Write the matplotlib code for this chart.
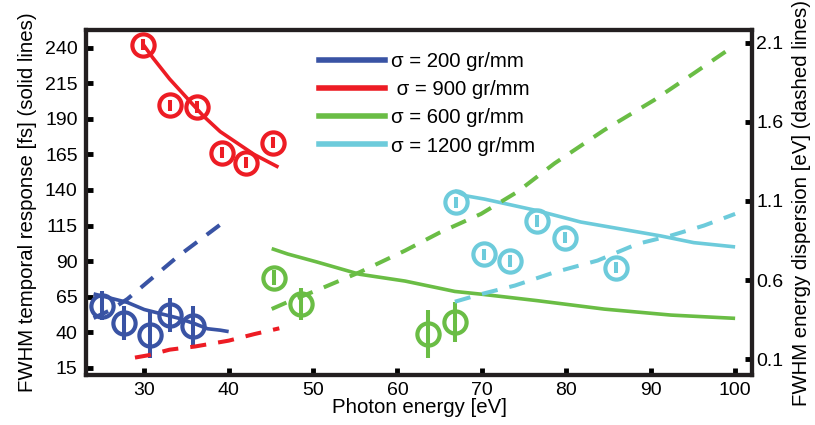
import matplotlib
matplotlib.use("Agg")
import matplotlib.pyplot as plt
from matplotlib.lines import Line2D

plt.rcParams['font.family'] = ['Liberation Sans', 'DejaVu Sans']

# ---- data ----
labels = ["σ = 200 gr/mm", " σ = 900 gr/mm", "σ = 600 gr/mm", "σ = 1200 gr/mm"]
colors = ["#3953a4", "#ed1c24", "#6abd45", "#6dcbdb"]

# sigma = 200
b_px = [25.0, 27.6, 30.7, 33.0, 35.8]
b_py = [58.7, 46.5, 38.1, 52.1, 44.7]
b_pe = [10, 12, 16, 12, 14]
b_sx = [24, 26, 28, 30, 32, 34, 36, 37.5, 39, 40]
b_sy = [67, 64, 61, 56, 53, 50, 46, 42.5, 41.5, 40.5]
b_dx = [24, 26, 28, 30, 32, 34, 36, 38, 40]
b_dy = [0.36, 0.41, 0.48, 0.57, 0.66, 0.75, 0.83, 0.91, 0.99]

# sigma = 900
r_px = [29.9, 33.0, 36.2, 39.2, 42.1, 45.2]
r_py = [242.2, 199.4, 198.3, 166.3, 159.3, 173.3]
r_pe = [4, 4, 4, 4, 4, 4]
r_sx = [29.9, 31, 33, 35, 37, 39, 41, 43, 45.9]
r_sy = [242, 233, 218, 205, 192, 181, 173, 165, 156]
r_dx = [28.9, 30.5, 33, 36, 40, 43, 46]
r_dy = [0.11, 0.125, 0.16, 0.18, 0.217, 0.258, 0.295]

# sigma = 600
g_px = [45.4, 48.6, 63.6, 66.8]
g_py = [78.5, 59.8, 38.8, 47.0]
g_pe = [5, 11, 17, 14]
g_sx = [45.1, 47, 50.4, 55.5, 60.9, 66.8, 69.9, 76.6, 84.5, 92.4, 100]
g_sy = [98.8, 95, 89.5, 80.8, 76, 68.7, 66.8, 62.2, 56.3, 52.1, 49.8]
g_dx = [45.1, 46.9, 50.8, 55.5, 60.9, 65, 69.9, 74.2, 78.6, 84.5, 90.4, 95.1, 99.6]
g_dy = [0.417, 0.459, 0.543, 0.649, 0.786, 0.9, 1.018, 1.157, 1.337, 1.548, 1.737, 1.906, 2.07]

# sigma = 1200
c_px = [66.9, 70.3, 73.3, 76.5, 79.9, 85.9]
c_py = [131.3, 94.8, 90.2, 118.2, 106.5, 85.5]
c_pe = [4, 4, 4, 4, 4, 4]
c_sx = [66.8, 68, 70.3, 76.6, 81.7, 91.2, 95.1, 100]
c_sy = [139.4, 136, 133.6, 125.4, 117.5, 107.7, 103, 100]
c_dx = [66.8, 69.9, 73.9, 78.6, 83.7, 88.4, 92.4, 96.3, 100]
c_dy = [0.463, 0.511, 0.565, 0.649, 0.723, 0.828, 0.881, 0.944, 1.018]

x_ticks = [30, 40, 50, 60, 70, 80, 90, 100]
yl_ticks = [15, 40, 65, 90, 115, 140, 165, 190, 215, 240]
yr_ticks = [0.1, 0.6, 1.1, 1.6, 2.1]

series = [
    (b_px, b_py, b_pe, b_sx, b_sy, b_dx, b_dy),
    (r_px, r_py, r_pe, r_sx, r_sy, r_dx, r_dy),
    (g_px, g_py, g_pe, g_sx, g_sy, g_dx, g_dy),
    (c_px, c_py, c_pe, c_sx, c_sy, c_dx, c_dy),
]

# ---- figure ----
fig = plt.figure(figsize=(8.15, 4.25), dpi=100)
ax = fig.add_axes([86 / 815, 50 / 425, 666 / 815, 345 / 425])
ax2 = ax.twinx()

lw = 2.6
for (px, py, pe, sx, sy, dx, dy), col in zip(series, colors):
    ax.plot(sx, sy, color=col, lw=lw, solid_capstyle='butt', zorder=2)
    ax.errorbar(px, py, yerr=pe, fmt='o', ms=16, mfc='none', mec=col, mew=3.0,
                ecolor=col, elinewidth=2.9, capsize=0, zorder=3)
    ax2.plot(dx, dy, color=col, lw=lw + 0.3, dashes=(4, 3), dash_capstyle='butt')

ax.set_xlim(23.1, 102)
ax.set_ylim(10, 252.4)
ax2.set_ylim(0.0, 2.18)

ax.set_xticks(x_ticks)
ax.set_yticks(yl_ticks)
ax2.set_yticks(yr_ticks)
ax2.set_yticklabels([f"{v:.1f}" for v in yr_ticks])

fs_tick = 14
fs = 14.7
ax.tick_params(axis='both', direction='in', length=5, width=3.5, labelsize=fs_tick,
               top=False, right=False)
ax.tick_params(axis='y', pad=6)
ax.tick_params(axis='x', pad=5)
ax2.tick_params(axis='y', direction='in', length=5, width=3.5, labelsize=fs_tick, pad=3)

for a in (ax, ax2):
    for s in a.spines.values():
        s.set_linewidth(3)
        s.set_color('#231f20')

ax.set_xlabel("Photon energy [eV]", fontsize=fs, labelpad=-1)
ax.set_ylabel("FWHM temporal response [fs] (solid lines)", fontsize=fs, labelpad=6)
ax2.set_ylabel("FWHM energy dispersion [eV] (dashed lines)", fontsize=fs, labelpad=6)

handles = [Line2D([0], [0], color=c, lw=4) for c in colors]
ax.legend(handles, labels, loc='upper left', bbox_to_anchor=(0.338, 0.96),
          frameon=False, fontsize=fs, handlelength=3.2, handletextpad=0.3,
          labelspacing=0.45, borderaxespad=0)

fig.savefig("out.png", dpi=100)
